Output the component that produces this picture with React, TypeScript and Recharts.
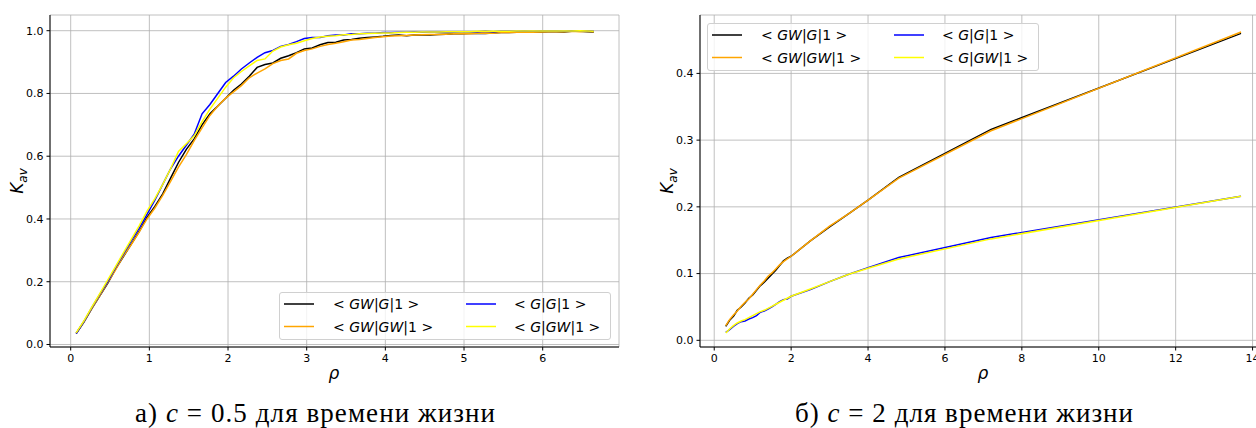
import React from 'react';
import { LineChart, Line, XAxis, YAxis, CartesianGrid, Legend } from 'recharts';

// ---------- data: left chart (c = 0.5) ----------
const LEFT_X = [
  0.07, 0.17, 0.27, 0.37, 0.47, 0.57, 0.67, 0.77, 0.87, 0.97,
  1.07, 1.17, 1.27, 1.37, 1.47, 1.57, 1.67, 1.77, 1.87, 1.97,
  2.07, 2.17, 2.27, 2.37, 2.47, 2.57, 2.67, 2.77, 2.87, 2.97,
  3.07, 3.17, 3.27, 3.37, 3.47, 3.57, 3.67, 3.77, 3.87, 3.97,
  4.07, 4.17, 4.27, 4.37, 4.47, 4.57, 4.67, 4.77, 4.87, 4.97,
  5.07, 5.17, 5.27, 5.37, 5.47, 5.57, 5.67, 5.77, 5.87, 5.97,
  6.07, 6.17, 6.27, 6.37, 6.47, 6.57, 6.65,
];
const LEFT_GW_G = [
  0.035, 0.072, 0.115, 0.155, 0.195, 0.24, 0.28, 0.32, 0.36, 0.405,
  0.44, 0.48, 0.53, 0.58, 0.622, 0.655, 0.7, 0.735, 0.76, 0.785,
  0.81, 0.83, 0.855, 0.883, 0.892, 0.897, 0.912, 0.92, 0.93, 0.942,
  0.945, 0.955, 0.962, 0.963, 0.97, 0.972, 0.976, 0.978, 0.98, 0.982,
  0.985, 0.986, 0.984, 0.986, 0.986, 0.986, 0.988, 0.989, 0.99, 0.99,
  0.991, 0.992, 0.991, 0.993, 0.994, 0.994, 0.995, 0.995, 0.996, 0.996,
  0.997, 0.997, 0.996, 0.998, 0.998, 0.997, 0.996,
];
const LEFT_GW_GW = [
  0.036, 0.073, 0.116, 0.156, 0.197, 0.238, 0.282, 0.318, 0.358, 0.4,
  0.435, 0.475, 0.52, 0.565, 0.605, 0.65, 0.69, 0.73, 0.76, 0.785,
  0.805, 0.825, 0.85, 0.865, 0.878, 0.895, 0.905, 0.91, 0.928, 0.937,
  0.942, 0.95, 0.956, 0.96, 0.965, 0.97, 0.972, 0.975, 0.978, 0.981,
  0.983, 0.984, 0.985, 0.986, 0.987, 0.988, 0.988, 0.989, 0.99, 0.991,
  0.99, 0.992, 0.993, 0.992, 0.994, 0.994, 0.995, 0.996, 0.995, 0.996,
  0.997, 0.997, 0.997, 0.998, 0.997, 0.998, 0.997,
];
const LEFT_G_G = [
  0.035, 0.074, 0.118, 0.16, 0.2, 0.245, 0.288, 0.33, 0.37, 0.415,
  0.46, 0.51, 0.56, 0.6, 0.635, 0.67, 0.735, 0.765, 0.8, 0.835,
  0.855, 0.878, 0.897, 0.915, 0.93, 0.937, 0.95, 0.956, 0.965, 0.975,
  0.978, 0.978, 0.984, 0.986, 0.986, 0.99, 0.99, 0.992, 0.992, 0.994,
  0.994, 0.995, 0.995, 0.996, 0.995, 0.996, 0.996, 0.997, 0.996, 0.997,
  0.997, 0.997, 0.998, 0.997, 0.998, 0.998, 0.998, 0.999, 0.998, 0.999,
  0.999, 0.999, 0.998, 0.999, 0.999, 0.999, 0.998,
];
const LEFT_G_GW = [
  0.037, 0.076, 0.12, 0.162, 0.205, 0.248, 0.292, 0.335, 0.378, 0.425,
  0.465, 0.51, 0.56, 0.615, 0.64, 0.665, 0.71, 0.75, 0.785, 0.82,
  0.85, 0.87, 0.888, 0.905, 0.91, 0.935, 0.948, 0.955, 0.96, 0.968,
  0.975, 0.98, 0.982, 0.984, 0.987, 0.988, 0.99, 0.991, 0.992, 0.993,
  0.993, 0.994, 0.995, 0.995, 0.996, 0.996, 0.996, 0.997, 0.997, 0.997,
  0.997, 0.998, 0.998, 0.998, 0.998, 0.998, 0.999, 0.999, 0.999, 0.999,
  0.999, 0.999, 0.999, 0.999, 1.0, 0.999, 0.998,
];
const LEFT_X_TICKS = [0, 1, 2, 3, 4, 5, 6];
const LEFT_Y_TICKS = [0, 0.2, 0.4, 0.6, 0.8, 1.0];

// ---------- data: right chart (c = 2) ----------
const RIGHT_X = [
  0.3, 0.4, 0.5, 0.6, 0.7, 0.8, 0.9, 1.0, 1.1, 1.2, 1.3, 1.4, 1.5,
  1.6, 1.7, 1.8, 1.9, 2.0, 2.5, 3.0, 3.5, 4.0, 4.8, 7.2, 13.7,
];
const RIGHT_GW_G = [
  0.021, 0.03, 0.036, 0.045, 0.05, 0.056, 0.063, 0.068, 0.075, 0.082, 0.087, 0.093, 0.099,
  0.105, 0.112, 0.119, 0.123, 0.126, 0.149, 0.17, 0.19, 0.21, 0.244, 0.316, 0.46,
];
const RIGHT_GW_GW = [
  0.022, 0.031, 0.038, 0.044, 0.051, 0.057, 0.062, 0.069, 0.076, 0.083, 0.089, 0.096, 0.101,
  0.107, 0.113, 0.118, 0.122, 0.126, 0.149, 0.171, 0.19, 0.21, 0.243, 0.314, 0.462,
];
const RIGHT_G_G = [
  0.012, 0.016, 0.021, 0.025, 0.028, 0.029, 0.032, 0.034, 0.037, 0.042, 0.044, 0.047, 0.05,
  0.054, 0.058, 0.061, 0.062, 0.066, 0.076, 0.088, 0.099, 0.109, 0.124, 0.154, 0.216,
];
const RIGHT_G_GW = [
  0.011, 0.017, 0.022, 0.026, 0.029, 0.031, 0.034, 0.037, 0.04, 0.043, 0.045, 0.048, 0.051,
  0.054, 0.057, 0.06, 0.063, 0.066, 0.077, 0.088, 0.099, 0.108, 0.122, 0.152, 0.216,
];
const RIGHT_X_TICKS = [0, 2, 4, 6, 8, 10, 12, 14];
const RIGHT_Y_TICKS = [0, 0.1, 0.2, 0.3, 0.4];

// ---------- series / labels ----------
const SERIES = [
  { key: 'gwg', color: '#000000', parts: ['GW', 'G'] },
  { key: 'gwgw', color: '#ffa500', parts: ['GW', 'GW'] },
  { key: 'gg', color: '#0000ff', parts: ['G', 'G'] },
  { key: 'ggw', color: '#ffff00', parts: ['G', 'GW'] },
];
const CAPTION_LEFT = { prefix: 'а) ', value: '0.5', suffix: ' для времени жизни' };
const CAPTION_RIGHT = { prefix: 'б) ', value: '2', suffix: ' для времени жизни' };

const leftRows = LEFT_X.map((x, i) => ({
  x, gwg: LEFT_GW_G[i], gwgw: LEFT_GW_GW[i], gg: LEFT_G_G[i], ggw: LEFT_G_GW[i],
}));
const rightRows = RIGHT_X.map((x, i) => ({
  x, gwg: RIGHT_GW_G[i], gwgw: RIGHT_GW_GW[i], gg: RIGHT_G_G[i], ggw: RIGHT_G_GW[i],
}));

const SANS = '"DejaVu Sans", sans-serif';
const TICK = { fill: '#000', fontSize: 11, fontFamily: SANS };
const SPINE = { stroke: '#000', strokeWidth: 1 };

function Label({ parts }: { parts: string[] }) {
  return (
    <span style={{ whiteSpace: 'nowrap' }}>
      {'< '}<i>{parts[0]}</i>|<i>{parts[1]}</i>|1{' >'}
    </span>
  );
}

function LegendBox() {
  const rows = [0, 1];
  const cols = [0, 1];
  return (
    <div style={{
      position: 'relative', width: 332, height: 48, boxSizing: 'border-box',
      border: '1px solid #d0d0d0', borderRadius: 3, background: 'rgba(255,255,255,0.8)',
      fontFamily: SANS, fontSize: 14, color: '#000',
    }}>
      <svg width={332} height={48} style={{ position: 'absolute', left: -1, top: -1 }}>
        {cols.map((c) =>
          rows.map((r) => {
            const s = SERIES[c * 2 + r];
            const lx = c === 0 ? 5 : 187;
            const cy = r === 0 ? 12 : 34.5;
            return <line key={s.key} x1={lx} x2={lx + 30} y1={cy} y2={cy} stroke={s.color} strokeWidth={1.5} />;
          })
        )}
      </svg>
      {cols.map((c) =>
        rows.map((r) => {
          const s = SERIES[c * 2 + r];
          const tx = c === 0 ? 53 : 234;
          const cy = r === 0 ? 11 : 33.5;
          return (
            <div key={s.key} style={{ position: 'absolute', left: tx, top: cy - 9, height: 18, lineHeight: '18px' }}>
              <Label parts={s.parts} />
            </div>
          );
        })
      )}
    </div>
  );
}

function Chart({ rows, xDomain, yDomain, xTicks, yTicks, marginRight, legendPos, yFmt }: any) {
  return (
    <LineChart width={640} height={400} data={rows} margin={{ top: 15, right: marginRight, bottom: 23, left: 0 }}>
      <CartesianGrid stroke="#b0b0b0" strokeWidth={0.8} />
      <XAxis type="number" dataKey="x" domain={xDomain} ticks={xTicks} allowDataOverflow
        height={30} tickSize={3.5} tickMargin={4} axisLine={SPINE} tickLine={{ stroke: '#000' }} tick={TICK}
        interval={0} />
      <XAxis xAxisId="top" orientation="top" type="number" dataKey="x" domain={xDomain} allowDataOverflow
        height={0} tick={false} tickLine={false} axisLine={SPINE} />
      <YAxis type="number" domain={yDomain} ticks={yTicks} allowDataOverflow width={50} tickSize={3.5}
        tickMargin={3} axisLine={SPINE} tickLine={{ stroke: '#000' }} tick={TICK} tickFormatter={yFmt} interval={0} />
      <YAxis yAxisId="right" orientation="right" type="number" domain={yDomain} allowDataOverflow width={0}
        tick={false} tickLine={false} axisLine={SPINE} />
      {SERIES.map((s) => (
        <Line key={s.key} dataKey={s.key} stroke={s.color} strokeWidth={1.5} dot={false}
          isAnimationActive={false} type="linear" />
      ))}
      <Legend layout="horizontal" verticalAlign="middle" align="center"
        wrapperStyle={{ left: legendPos[0], top: legendPos[1], width: 332, height: 48 }}
        content={() => <LegendBox />} />
    </LineChart>
  );
}

function Caption({ x, width, c }: any) {
  return (
    <text x={x} y={422} fontFamily='"Liberation Serif", serif' fontSize={27} fill="#000"
      textLength={width} lengthAdjust="spacing">
      {c.prefix}<tspan fontStyle="italic">c</tspan>{' = ' + c.value + c.suffix}
    </text>
  );
}

function KLabel({ x }: { x: number }) {
  return (
    <text transform={`translate(${x},181) rotate(-90)`} textAnchor="middle" fontFamily={SANS}
      fontSize={17} fontStyle="italic" fill="#000">
      K<tspan fontSize={12} dy={4}>av</tspan>
    </text>
  );
}

export default function App() {
  return (
    <div style={{ position: 'absolute', left: 0, top: 0, width: 1256, height: 428, overflow: 'hidden', background: '#fff' }}>
      <div style={{ position: 'absolute', left: 0, top: 0 }}>
        <Chart rows={leftRows} xDomain={[-0.263, 6.97]} yDomain={[-0.008, 1.05]} xTicks={LEFT_X_TICKS}
          yTicks={LEFT_Y_TICKS} marginRight={21} legendPos={[279, 292]} yFmt={(v: number) => v.toFixed(1)} />
      </div>
      <div style={{ position: 'absolute', left: 650, top: 0 }}>
        <Chart rows={rightRows} xDomain={[-0.37, 14.37]} yDomain={[-0.01, 0.4875]} xTicks={RIGHT_X_TICKS}
          yTicks={RIGHT_Y_TICKS} marginRight={23.2} legendPos={[57, 23]} yFmt={(v: number) => v.toFixed(1)} />
      </div>
      <svg width={1256} height={428} style={{ position: 'absolute', left: 0, top: 0, pointerEvents: 'none' }}>
        <text x={334} y={378.5} textAnchor="middle" fontFamily={SANS} fontSize={17} fontStyle="italic" fill="#000">ρ</text>
        <text x={983} y={378.5} textAnchor="middle" fontFamily={SANS} fontSize={17} fontStyle="italic" fill="#000">ρ</text>
        <KLabel x={22.5} />
        <KLabel x={673} />
        <Caption x={135} width={360} c={CAPTION_LEFT} />
        <Caption x={795} width={338} c={CAPTION_RIGHT} />
      </svg>
    </div>
  );
}
